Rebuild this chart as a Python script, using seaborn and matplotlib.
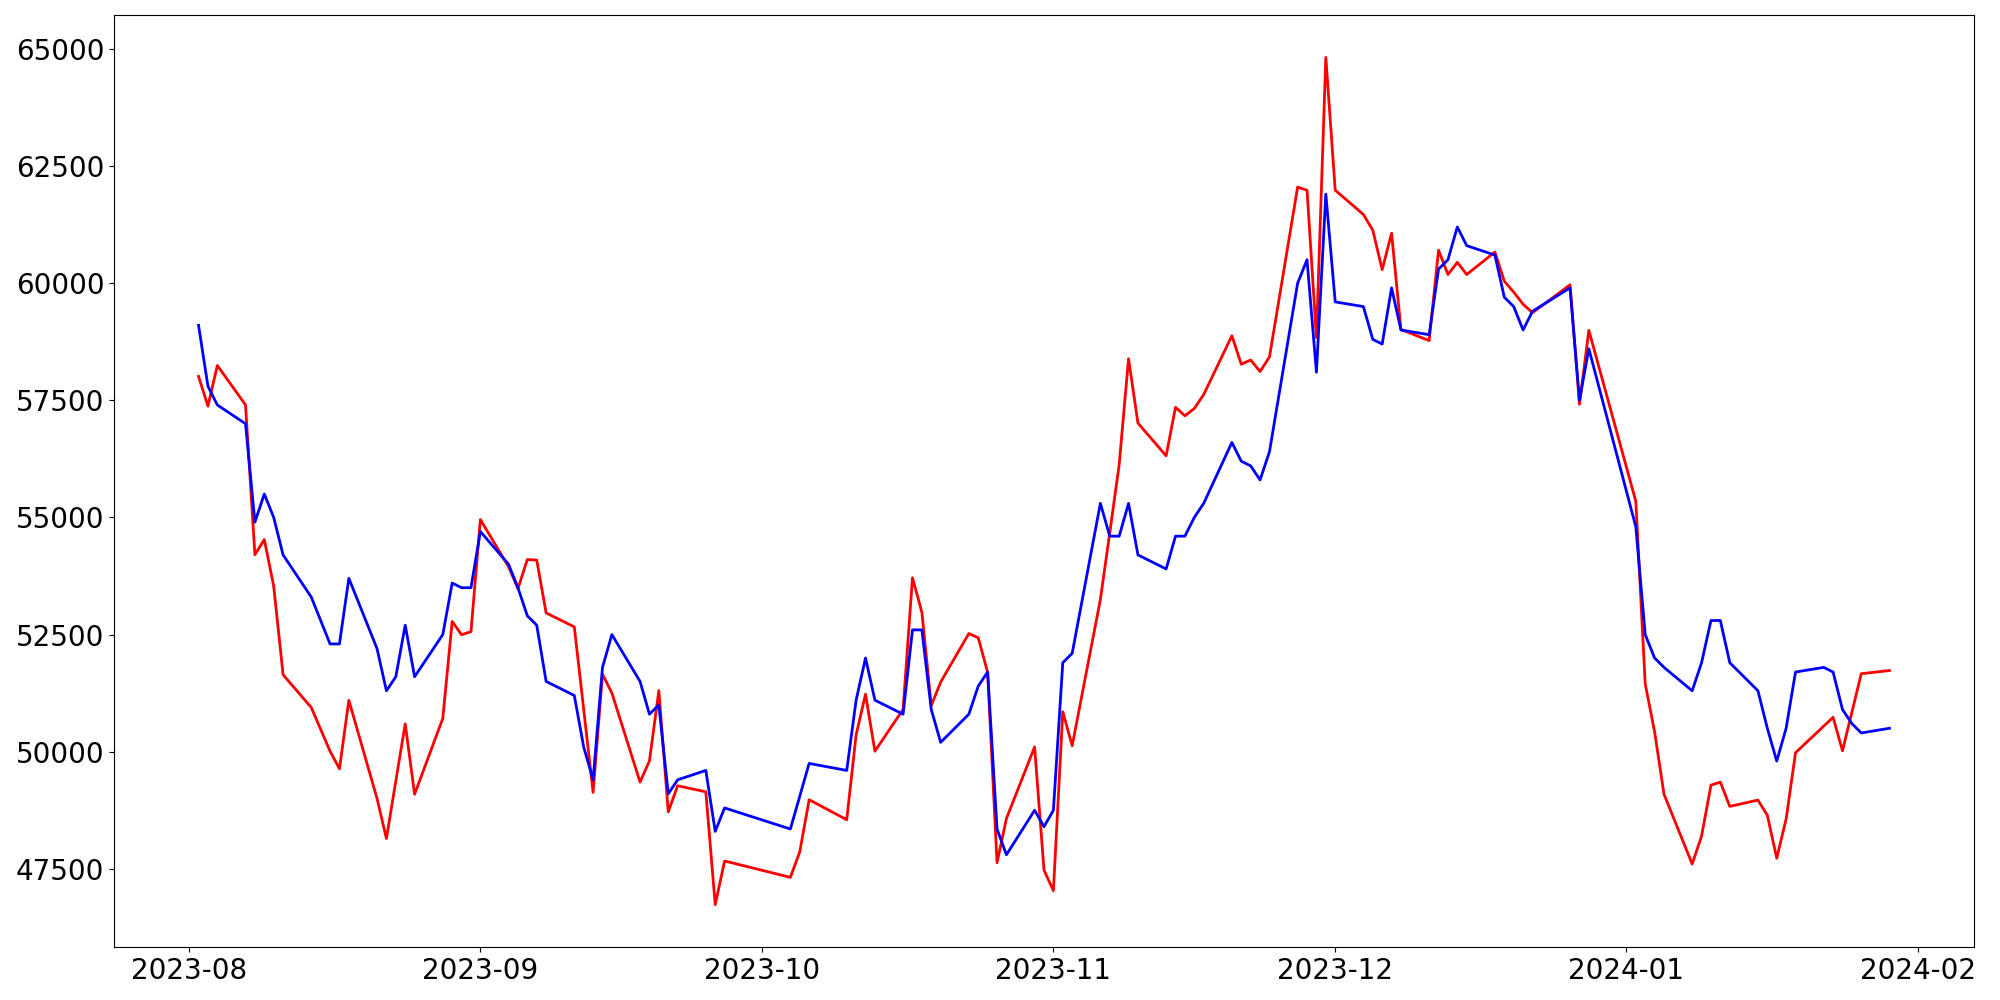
import matplotlib
matplotlib.use("Agg")
import matplotlib.pyplot as plt
import seaborn as sns
import pandas as pd

aug_days = [2, 3, 4, 7, 8, 9, 10, 11, 14, 16, 17, 18, 21, 22, 23, 24, 25, 28, 29, 30, 31]
sep_days = [1, 4, 5, 6, 7, 8, 11, 12, 13, 14, 15, 18, 19, 20, 21, 22, 25, 26, 27]
oct_days = [4, 5, 6, 10, 11, 12, 13, 16, 17, 18, 19, 20, 23, 24, 25, 26, 27, 30, 31]
nov_days = [1, 2, 3, 6, 7, 8, 9, 10, 13, 14, 15, 16, 17, 20, 21, 22, 23, 24, 27, 28, 29, 30]
dec_days = [1, 4, 5, 6, 7, 8, 11, 12, 13, 14, 15, 18, 19, 20, 21, 22, 26, 27, 28]
jan_days = [2, 3, 4, 5, 8, 9, 10, 11, 12, 15, 16, 17, 18, 19, 22, 23, 24, 25, 26, 29]

blue_values = [
    59100, 57800, 57400, 57000, 54900, 55500, 55000, 54200, 53300, 52300, 52300, 53700, 52200, 51300, 51600, 52700, 51600, 52500, 53600, 53500, 53500,
    54700, 54000, 53500, 52900, 52700, 51500, 51200, 50100, 49400, 51800, 52500, 51500, 50800, 51000, 49100, 49400, 49600, 48300, 48800,
    48350, 49050, 49750, 49600, 51100, 52000, 51100, 50800, 52600, 52600, 50900, 50200, 50800, 51400, 51700, 48350, 47800, 48750, 48400,
    48750, 51900, 52100, 55300, 54600, 54600, 55300, 54200, 53900, 54600, 54600, 55000, 55300, 56600, 56200, 56100, 55800, 56400, 60000, 60500, 58100, 61900,
    59600, 59500, 58800, 58700, 59900, 59000, 58900, 60300, 60500, 61200, 60800, 60600, 59700, 59500, 59000, 59400, 59900, 57500, 58600,
    54800, 52500, 52000, 51800, 51300, 51900, 52800, 52800, 51900, 51300, 50500, 49800, 50500, 51700, 51800, 51700, 50900, 50600, 50400, 50500,
]

red_values = [
    58010, 57376, 58243, 57402, 54205, 54528, 53532, 51642, 50943, 50011, 49635, 51098, 49001, 48147, 49375, 50593, 49092, 50710, 52781, 52496, 52561,
    54955, 53950, 53480, 54101, 54090, 52962, 52664, 50904, 49131, 51655, 51253, 49351, 49804, 51305, 48716, 49273, 49144, 46736, 47668,
    47318, 47862, 48975, 48548, 50360, 51228, 50011, 50904, 53713, 52975, 50982, 51486, 52522, 52431, 51694, 47629, 48574, 50101, 47474,
    47034, 50852, 50127, 53247, 54671, 56120, 58386, 57014, 56315, 57350, 57169, 57324, 57622, 58877, 58269, 58360, 58114, 58424, 62049, 61984, 58839, 64819,
    61984, 61466, 61130, 60288, 61065, 59010, 58774, 60703, 60185, 60444, 60185, 60664, 60042, 59809, 59551, 59369, 59965, 57415, 58994,
    55344, 51448, 50425, 49092, 47603, 48199, 49286, 49351, 48833, 48968, 48644, 47726, 48562, 49978, 50545, 50734, 50020, 50842, 51665, 51732,
]

date_strings = (
    [f"2023-08-{d:02d}" for d in aug_days]
    + [f"2023-09-{d:02d}" for d in sep_days]
    + [f"2023-10-{d:02d}" for d in oct_days]
    + [f"2023-11-{d:02d}" for d in nov_days]
    + [f"2023-12-{d:02d}" for d in dec_days]
    + [f"2024-01-{d:02d}" for d in jan_days]
)
dates = pd.to_datetime(date_strings)

df = pd.DataFrame({"date": dates, "red": red_values, "blue": blue_values})

fig, ax = plt.subplots(figsize=(20, 10), dpi=100)
sns.lineplot(data=df, x="date", y="red", color="red", linewidth=2, ax=ax)
sns.lineplot(data=df, x="date", y="blue", color="blue", linewidth=2, ax=ax)

ax.set_xlabel("")
ax.set_ylabel("")
ax.tick_params(axis="both", labelsize=20)
fig.subplots_adjust(left=0.057, right=0.987, bottom=0.053, top=0.985)
fig.savefig("out.png", dpi=100)
